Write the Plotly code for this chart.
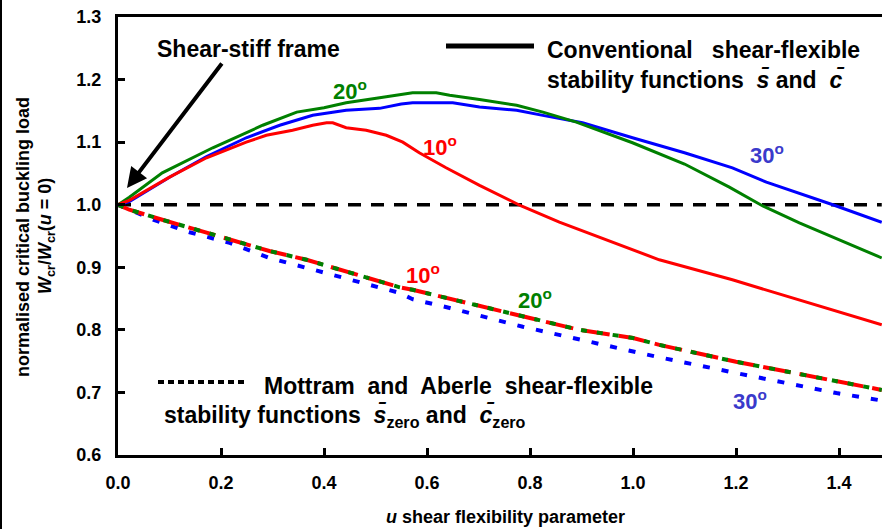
import plotly.graph_objects as go

# ---------------- data ----------------
u_red = [0, 0.022, 0.1, 0.172, 0.249, 0.288, 0.339, 0.378, 0.405, 0.417, 0.443, 0.482, 0.521, 0.553,
         0.585, 0.637, 0.702, 0.783, 0.857, 0.921, 1.051, 1.193, 1.323, 1.483]
w_red = [1.0, 1.007, 1.044, 1.075, 1.1, 1.111, 1.119, 1.127, 1.131, 1.131, 1.123, 1.119, 1.111, 1.1,
         1.083, 1.059, 1.031, 0.998, 0.972, 0.952, 0.912, 0.880, 0.848, 0.808]

u_green = [0, 0.022, 0.086, 0.184, 0.281, 0.347, 0.4, 0.443, 0.508, 0.572, 0.618, 0.644, 0.702,
           0.774, 0.825, 0.89, 0.999, 1.1, 1.187, 1.252, 1.323, 1.483]
w_green = [1.0, 1.012, 1.051, 1.091, 1.127, 1.148, 1.155, 1.163, 1.171, 1.179, 1.179, 1.175, 1.168,
           1.159, 1.148, 1.132, 1.099, 1.065, 1.028, 0.998, 0.971, 0.915]

u_blue = [0, 0.022, 0.1, 0.172, 0.249, 0.314, 0.378, 0.443, 0.508, 0.55, 0.572, 0.65, 0.702, 0.774,
          0.83, 0.902, 0.999, 1.1, 1.193, 1.259, 1.388, 1.483]
w_blue = [1.0, 1.005, 1.044, 1.077, 1.107, 1.127, 1.143, 1.151, 1.154, 1.161, 1.163, 1.163, 1.156,
          1.151, 1.142, 1.131, 1.107, 1.083, 1.059, 1.036, 1.0, 0.972]

u_zero_rg = [0, 0.022, 0.086, 0.139, 0.217, 0.294, 0.366, 0.547, 0.572, 0.644, 0.786, 0.896, 1.0,
             1.051, 1.2, 1.395, 1.483]
w_zero_red = [1.0, 0.992, 0.976, 0.963, 0.944, 0.926, 0.912, 0.868, 0.864, 0.850, 0.821, 0.800, 0.787,
              0.776, 0.749, 0.717, 0.704]
w_zero_green = [1.0, 0.992, 0.976, 0.963, 0.944, 0.926, 0.912, 0.868, 0.864, 0.850, 0.821, 0.800, 0.787,
                0.776, 0.749, 0.717, 0.704]

u_zero_blue = [0, 0.068, 0.139, 0.217, 0.294, 0.547, 0.572, 0.644, 0.786, 0.896, 1.046, 1.2, 1.395, 1.483]
w_zero_blue = [1.0, 0.976, 0.956, 0.939, 0.915, 0.859, 0.849, 0.835, 0.805, 0.785, 0.757, 0.731, 0.699, 0.687]

ref_u = [0, 1.483]
ref_w = [1.0, 1.0]

x_ticks = [0.0, 0.2, 0.4, 0.6, 0.8, 1.0, 1.2, 1.4]
y_ticks = [0.6, 0.7, 0.8, 0.9, 1.0, 1.1, 1.2, 1.3]

RED = "#FF0000"
GREEN = "#008000"
BLUE = "#0000FF"
FONT = "Liberation Sans, Arial, sans-serif"

fig = go.Figure()

# reference dashed line
fig.add_trace(go.Scatter(x=ref_u, y=ref_w, mode="lines",
                         line=dict(color="black", width=3.5, dash="13px,10px")))

# zero-shear (Mottram & Aberle) curves
fig.add_trace(go.Scatter(x=u_zero_blue, y=w_zero_blue, mode="lines",
                         line=dict(color=BLUE, width=4, dash="7px,12px")))
fig.add_trace(go.Scatter(x=u_zero_rg, y=w_zero_red, mode="lines",
                         line=dict(color=RED, width=4, dash="28px,9px")))
fig.add_trace(go.Scatter(x=u_zero_rg, y=w_zero_green, mode="lines",
                         line=dict(color=GREEN, width=4, dash="6px,10px")))

# conventional curves
fig.add_trace(go.Scatter(x=u_blue, y=w_blue, mode="lines", line=dict(color=BLUE, width=3)))
fig.add_trace(go.Scatter(x=u_green, y=w_green, mode="lines", line=dict(color=GREEN, width=3)))
fig.add_trace(go.Scatter(x=u_red, y=w_red, mode="lines", line=dict(color=RED, width=3)))

L, R, T, B = 118, 0, 17, 74
W, H = 882, 529
PW, PH = W - L - R, H - T - B


def px(x):
    return (x - L) / PW


def py(y):
    return (H - B - y) / PH


anns = []


def label(x, y, text, size=18, color="black", xanchor="center", angle=0):
    anns.append(dict(x=px(x), y=py(y), xref="paper", yref="paper", text=text, showarrow=False,
                     xanchor=xanchor, yanchor="middle", textangle=angle,
                     font=dict(family=FONT, size=size, color=color, weight="bold")))


# degree labels
deg = "<sup>o</sup>"
label(350, 90, "20" + deg, 22, GREEN)
label(440, 146, "10" + deg, 22, RED)
label(767, 154, "30" + deg, 22, "#3A3ACB")
label(423, 274, "10" + deg, 22, RED)
label(535, 299, "20" + deg, 22, GREEN)
label(750, 400, "30" + deg, 22, "#3A3ACB")

# legend texts
label(545, 50, "Conventional   shear-flexible", 23, xanchor="left")
label(545, 80, "stability functions  <i>s\u0304</i> and  <i>c\u0304</i>", 23, xanchor="left")
label(262, 386, "Mottram  and  Aberle  shear-flexible", 23, xanchor="left")
label(162, 416, "stability functions  <i>s\u0304</i><sub>zero</sub> and  <i>c\u0304</i><sub>zero</sub>", 23,
      xanchor="left")

# shear-stiff annotation text
label(248, 49, "Shear-stiff frame", 23)

# axis titles
label(505, 517, "<i>u</i> shear flexibility parameter", 18)
label(23, 237, "normalised critical buckling load", 18, angle=-90)
label(46, 236, "<i>W</i><sub>cr</sub>/<i>W</i><sub>cr</sub>(<i>u</i> = 0)", 18, angle=-90)

# arrow
anns.append(dict(x=px(127), y=py(188), xref="paper", yref="paper", ax=223 - 127, ay=62 - 188,
                 axref="pixel", ayref="pixel", showarrow=True, arrowhead=2, arrowsize=1.0,
                 arrowwidth=4, arrowcolor="black", text=""))

shapes = [
    # legend sample lines
    dict(type="line", xref="paper", yref="paper", x0=px(446), x1=px(534), y0=py(46), y1=py(46),
         line=dict(color="black", width=5)),
    dict(type="line", xref="paper", yref="paper", x0=px(158), x1=px(246), y0=py(382), y1=py(382),
         line=dict(color="black", width=4, dash="6px,4px")),
    # outer frame left edge
    dict(type="line", xref="paper", yref="paper", x0=px(1), x1=px(1), y0=py(0), y1=py(529),
         line=dict(color="black", width=2)),
]

fig.update_layout(
    width=W, height=H,
    margin=dict(l=L, r=R, t=T, b=B, pad=0),
    paper_bgcolor="white", plot_bgcolor="white",
    showlegend=False,
    font=dict(family=FONT, color="black"),
    annotations=anns,
    shapes=shapes,
    xaxis=dict(range=[0, PW / 515.0], tickvals=x_ticks, tickformat=".1f",
               ticks="inside", ticklen=7, tickwidth=2.5, tickcolor="black",
               showline=True, linewidth=3, linecolor="black", mirror=True,
               showgrid=False, zeroline=False, ticklabelstandoff=9,
               tickfont=dict(family=FONT, size=18, color="black", weight="bold")),
    yaxis=dict(range=[0.6, 1.3], tickvals=y_ticks, tickformat=".1f",
               ticks="inside", ticklen=7, tickwidth=2.5, tickcolor="black",
               showline=True, linewidth=3, linecolor="black",
               showgrid=False, zeroline=False, ticklabelstandoff=10,
               tickfont=dict(family=FONT, size=18, color="black", weight="bold")),
)

fig.write_html("out.html", config={"displayModeBar": False},
               post_script="document.body.style.margin='0px';")
